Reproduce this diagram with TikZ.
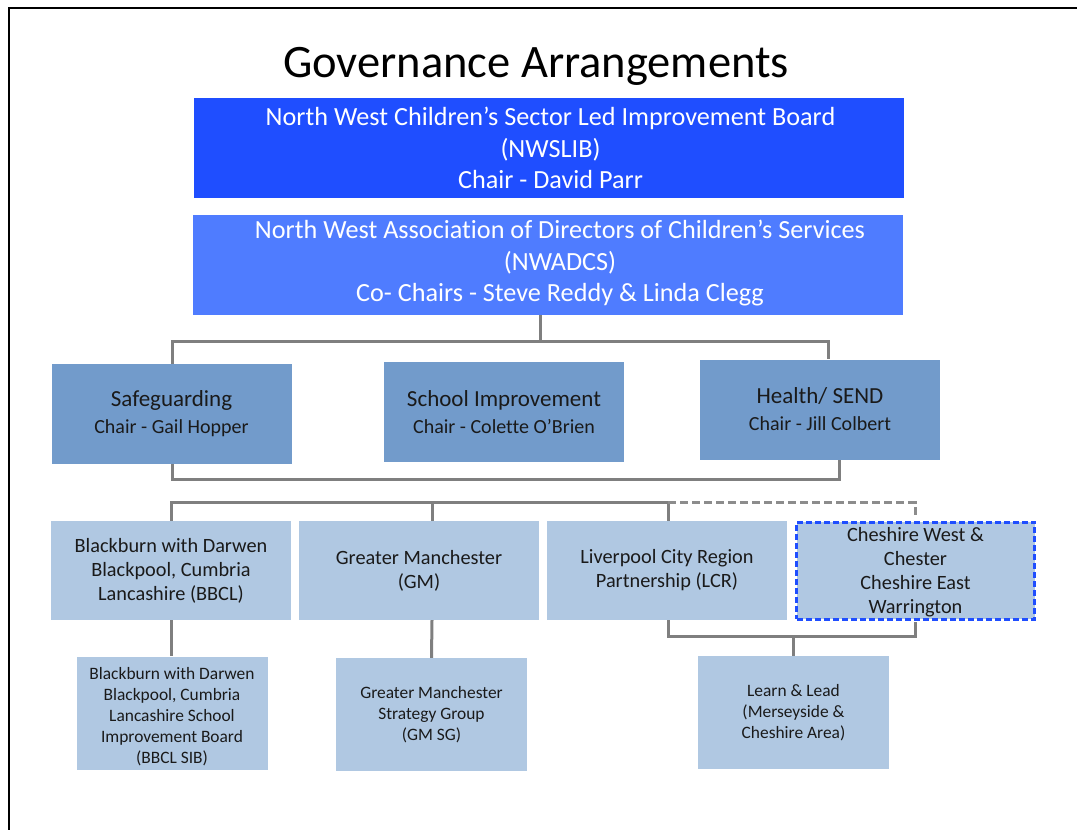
\documentclass[tikz,border=0pt]{standalone}
\usepackage{fontspec}
\setmainfont{Carlito}[Ligatures={NoCommon}]
\usetikzlibrary{calc}
\definecolor{topblue}{RGB}{31,78,255}
\definecolor{secblue}{RGB}{79,124,255}
\definecolor{midblue}{RGB}{114,155,203}
\definecolor{lightblue}{RGB}{176,200,226}
\definecolor{connGray}{RGB}{127,127,127}
\definecolor{dashGray}{RGB}{140,140,140}
\definecolor{cwblue}{RGB}{31,78,255}
\definecolor{txtdark}{RGB}{26,26,26}
\begin{document}
\begin{tikzpicture}[x=1pt,y=-1pt,
  box/.style={draw=none,inner sep=0pt,align=center,text=txtdark},
  bigbox/.style={box,minimum width=710pt,minimum height=100pt},
  bigtext/.style={inner sep=0pt,align=center,text=white,font=\fontsize{26.2}{31.5}\selectfont},
  midbox/.style={box,fill=midblue,minimum width=240pt,minimum height=100pt,font=\fontsize{20}{27}\selectfont},
  rowbox/.style={box,fill=lightblue,minimum width=240pt,minimum height=99pt,font=\fontsize{20.3}{24}\selectfont},
  lowbox/.style={box,fill=lightblue,minimum width=191pt,minimum height=113pt,font=\fontsize{17.4}{21}\selectfont},
  conn/.style={draw=connGray,line width=3pt},
  dconn/.style={draw=dashGray,line width=3pt,dash pattern=on 8pt off 4pt},
  frameline/.style={draw=black,line width=2pt}
]
\useasboundingbox (0,0) rectangle (1077,830);
\draw[frameline] (9,830) -- (9,8) -- (1077,8);

\node[anchor=base,font=\fontsize{46.5}{50}\selectfont,text=black] (title) at (536,77) {Governance Arrangements};

\node[bigbox,fill=topblue] (nwslib) at (548.5,148) {};
\node[bigtext] (nwslibText) at ([xshift=2pt]nwslib.center) {North West Children’s Sector Led Improvement Board\\(NWSLIB)\\Chair - David Parr};
\node[bigbox,fill=secblue] (nwadcs) at (548,265) {};
\node[bigtext] (nwadcsText) at ([xshift=12pt,yshift=1.5pt]nwadcs.center) {North West Association of Directors of Children’s Services\\(NWADCS)\\Co- Chairs - Steve Reddy \& Linda Clegg};

\node[midbox] (safe) at (171.5,414) {{\fontsize{23}{27}\selectfont Safeguarding}\\Chair - Gail Hopper};
\node[midbox] (school) at (504,412) {{\fontsize{23}{27}\selectfont School Improvement}\\Chair - Colette O’Brien};
\node[midbox] (health) at (820,409.5) {{\fontsize{23}{27}\selectfont Health/ SEND}\\Chair - Jill Colbert};

\node[rowbox] (bbcl) at (171,570.5) {Blackburn with Darwen\\Blackpool, Cumbria\\Lancashire (BBCL)};
\node[rowbox] (gm) at (419,570.5) {Greater Manchester\\(GM)};
\node[rowbox] (lcr) at (667,570.5) {Liverpool City Region\\Partnership (LCR)};
\node[rowbox,minimum width=238pt,minimum height=97pt,draw=cwblue,line width=3pt,dash pattern=on 6pt off 3pt] (cw) at (915.5,570.5) {};
\node[inner sep=0pt,align=center,text=txtdark,font=\fontsize{20.3}{24}\selectfont] (cwText) at ([yshift=-2pt]cw.center) {Cheshire West \&\\Chester\\Cheshire East\\Warrington};

\node[lowbox] (sib) at (172,713) {};
\node[inner sep=0pt,align=center,text=txtdark,font=\fontsize{17.4}{21}\selectfont] (sibText) at ([yshift=-4pt]sib.center) {Blackburn with Darwen\\Blackpool, Cumbria\\Lancashire School\\Improvement Board\\(BBCL SIB)};
\node[lowbox] (gmsg) at (431.5,714.5) {Greater Manchester\\Strategy Group\\(GM SG)};
\node[lowbox] (ll) at (793.5,712.5) {Learn \& Lead\\(Merseyside \&\\Cheshire Area)};

% connectors
\draw[conn] ([xshift=-8pt]nwadcs.south) -- ++(0,26) coordinate (b1);
\draw[conn] ([xshift=0.5pt]safe.north) |- (b1) -| ([xshift=8.5pt]health.north);
\draw[conn] ([xshift=0.5pt]safe.south) |- ([xshift=19pt,yshift=-20pt]health.south) -- ([xshift=19pt]health.south);

\draw[conn] ([xshift=1pt]lcr.north) -- ++(0,-18) coordinate (b2);
\draw[conn] (bbcl.north) |- (b2);
\draw[conn] ([xshift=13pt]gm.north) -- ++(0,-18);
\draw[dconn] (b2) -| ([yshift=1.5pt]cw.north);

\draw[conn] ([xshift=1pt]lcr.south) |- ([yshift=-16pt]cw.south) -- ([yshift=-1.5pt]cw.south);
\draw[conn] (ll.north) -- ++(0,-19);
\draw[conn] ([xshift=0.5pt]bbcl.south) -- ([xshift=-0.5pt]sib.north);
\draw[conn] ([xshift=13pt]gm.south) -- (gmsg.north);
\end{tikzpicture}
\end{document}
